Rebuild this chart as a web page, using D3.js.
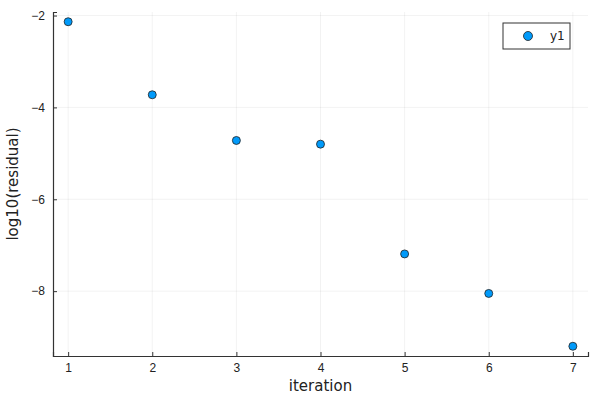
<!DOCTYPE html>
<html>
<head>
<meta charset="utf-8">
<script src="https://cdn.jsdelivr.net/npm/d3@7"></script>
<style>
  body { margin: 0; background: #fff; }
  svg { font-family: "DejaVu Sans", sans-serif; }
</style>
</head>
<body>
<div id="chart"></div>
<script>
// data
var iterations = [1, 2, 3, 4, 5, 6, 7];
var logResidual = [-2.135, -3.725, -4.72, -4.80, -7.19, -8.05, -9.20];
var xTicks = [1, 2, 3, 4, 5, 6, 7];
var yTicks = [-8, -6, -4, -2];
var seriesName = "y1";

var W = 600, H = 400;
var margin = {top: 12, right: 12, bottom: 44, left: 53};
var width = W - margin.left - margin.right,
    height = H - margin.top - margin.bottom;

var svg = d3.select("#chart").append("svg")
  .attr("width", W)
  .attr("height", H);

var g = svg.append("g")
  .attr("transform", "translate(" + margin.left + "," + margin.top + ")");

// Plots.jl style padding: 3% each side
var xe = d3.extent(iterations), ye = d3.extent(logResidual);
var xp = (xe[1] - xe[0]) * 0.03, yp = (ye[1] - ye[0]) * 0.03;
var x = d3.scaleLinear().domain([xe[0] - xp, xe[1] + xp]).range([0, width]);
var y = d3.scaleLinear().domain([ye[0] - yp, ye[1] + yp]).range([height, 0]);

// grid
g.append("g").selectAll("line").data(xTicks).enter().append("line")
  .attr("x1", function (d) { return x(d); })
  .attr("x2", function (d) { return x(d); })
  .attr("y1", 0).attr("y2", height)
  .attr("stroke", "#000").attr("stroke-opacity", 0.1).attr("stroke-width", 0.5);
g.append("g").selectAll("line").data(yTicks).enter().append("line")
  .attr("y1", function (d) { return y(d); })
  .attr("y2", function (d) { return y(d); })
  .attr("x1", 0).attr("x2", width)
  .attr("stroke", "#000").attr("stroke-opacity", 0.1).attr("stroke-width", 0.5);

// axes
var fmt = function (d) { return d < 0 ? "\u2212" + Math.abs(d) : String(d); };
var xAxis = g.append("g")
  .attr("transform", "translate(0," + height + ")")
  .call(d3.axisBottom(x).tickValues(xTicks).tickSize(-4).tickPadding(7).tickFormat(fmt));
var yAxis = g.append("g")
  .call(d3.axisLeft(y).tickValues(yTicks).tickSize(-4).tickPadding(8).tickFormat(fmt));

[xAxis, yAxis].forEach(function (a) {
  a.select(".domain").attr("stroke", "#333").attr("stroke-width", 1.2);
  a.selectAll(".tick line").attr("stroke", "#333").attr("stroke-width", 1);
  a.selectAll(".tick text").attr("fill", "#222").style("font-size", "12px");
});

// axis labels
svg.append("text")
  .attr("x", margin.left + width / 2)
  .attr("y", 391)
  .attr("text-anchor", "middle")
  .style("font-size", "15px")
  .attr("fill", "#222")
  .text("iteration");
svg.append("text")
  .attr("transform", "translate(18," + (margin.top + height / 2) + ") rotate(-90)")
  .attr("text-anchor", "middle")
  .style("font-size", "15px")
  .attr("fill", "#222")
  .text("log10(residual)");

// points
g.selectAll("circle.pt").data(iterations).enter().append("circle")
  .attr("class", "pt")
  .attr("cx", function (d) { return x(d); })
  .attr("cy", function (d, i) { return y(logResidual[i]); })
  .attr("r", 4)
  .attr("fill", "#009AFA")
  .attr("stroke", "#222")
  .attr("stroke-width", 0.8);

// legend
var lg = svg.append("g").attr("transform", "translate(503,23)");
lg.append("rect").attr("width", 67).attr("height", 26)
  .attr("fill", "#fff").attr("stroke", "#333").attr("stroke-width", 1);
lg.append("circle").attr("cx", 25).attr("cy", 13).attr("r", 4.5)
  .attr("fill", "#009AFA").attr("stroke", "#222").attr("stroke-width", 0.8);
lg.append("text").attr("x", 47).attr("y", 17)
  .style("font-size", "12px").attr("fill", "#222")
  .text(seriesName);
</script>
</body>
</html>
